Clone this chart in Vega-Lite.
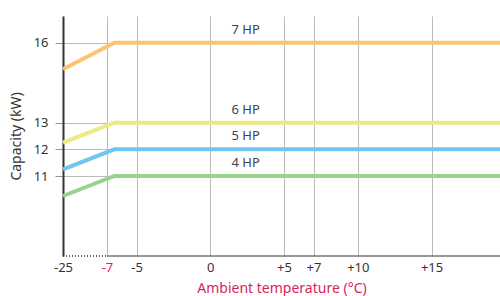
{
  "$schema": "https://vega.github.io/schema/vega-lite/v6.json",
  "width": 437,
  "height": 240,
  "autosize": "none",
  "padding": {"left": 63, "top": 16, "right": 0, "bottom": 40},
  "config": {
    "view": {"stroke": null},
    "font": "Noto Sans",
    "axis": {"labelFont": "Noto Sans", "titleFont": "Noto Sans", "labelFontSize": 13, "labelColor": "#333", "titleColor": "#333", "titleFontWeight": "normal", "titleFontSize": 14}
  },
  "datasets": {
    "lines": [
      {"model": "7 HP", "temp": -25, "cap": 15},
      {"model": "7 HP", "temp": -6.5, "cap": 16},
      {"model": "7 HP", "temp": 19.64, "cap": 16},
      {"model": "6 HP", "temp": -25, "cap": 12.25},
      {"model": "6 HP", "temp": -6.5, "cap": 13},
      {"model": "6 HP", "temp": 19.64, "cap": 13},
      {"model": "5 HP", "temp": -25, "cap": 11.25},
      {"model": "5 HP", "temp": -6.5, "cap": 12},
      {"model": "5 HP", "temp": 19.64, "cap": 12},
      {"model": "4 HP", "temp": -25, "cap": 10.25},
      {"model": "4 HP", "temp": -6.5, "cap": 11},
      {"model": "4 HP", "temp": 19.64, "cap": 11}
    ],
    "labels": [
      {"model": "7 HP", "temp": 2.4, "cap": 16},
      {"model": "6 HP", "temp": 2.4, "cap": 13},
      {"model": "5 HP", "temp": 2.4, "cap": 12},
      {"model": "4 HP", "temp": 2.4, "cap": 11}
    ],
    "dotted": [{"a": -25, "b": -7, "y": 8}],
    "solid": [{"a": -7, "b": 19.64, "y": 8}]
  },
  "layer": [
    {
      "data": {"name": "lines"},
      "mark": {"type": "line", "strokeWidth": 4, "strokeCap": "butt"},
      "encoding": {
        "x": {
          "field": "temp", "type": "quantitative",
          "scale": {"domain": [-25, -7, 19.64], "range": [0, 44, 437], "nice": false, "zero": false},
          "axis": {
            "values": [-25, -7, -5, 0, 5, 7, 10, 15],
            "grid": true, "gridColor": "#bbbbbb", "gridWidth": 1,
            "domain": false, "ticks": false, "labelPadding": 5, "labelFlush": false,
            "labelExpr": "datum.value > 0 ? '+' + datum.value : '' + datum.value",
            "labelColor": {"condition": {"test": "datum.value == -7", "value": "#d81e5b"}, "value": "#333333"},
            "title": "Ambient temperature (°C)", "titleColor": "#d81e5b", "titlePadding": 7
          }
        },
        "y": {
          "field": "cap", "type": "quantitative",
          "scale": {"domain": [8, 17], "nice": false, "zero": false},
          "axis": {
            "values": [11, 12, 13, 16],
            "grid": true, "gridColor": "#bbbbbb",
            "domain": true, "domainColor": "#333333", "domainWidth": 2,
            "ticks": true, "tickSize": 8, "tickColor": "#999999",
            "labelPadding": 7, "labelFlush": false,
            "title": "Capacity (kW)", "titlePadding": 10
          }
        },
        "color": {
          "field": "model", "type": "nominal",
          "scale": {"domain": ["7 HP", "6 HP", "5 HP", "4 HP"], "range": ["#fdc373", "#ecea80", "#70c6ee", "#98d38c"]},
          "legend": null
        },
        "detail": {"field": "model"}
      }
    },
    {
      "data": {"name": "labels"},
      "mark": {"type": "text", "baseline": "bottom", "dy": -6, "fontSize": 13, "color": "#444444", "font": "Noto Sans"},
      "encoding": {
        "x": {"field": "temp", "type": "quantitative"},
        "y": {"field": "cap", "type": "quantitative"},
        "text": {"field": "model"}
      }
    },
    {
      "data": {"name": "dotted"},
      "mark": {"type": "rule", "strokeDash": [1, 2], "color": "#333333", "strokeWidth": 1.5},
      "encoding": {
        "x": {"field": "a", "type": "quantitative"},
        "x2": {"field": "b"},
        "y": {"field": "y", "type": "quantitative"}
      }
    },
    {
      "data": {"name": "solid"},
      "mark": {"type": "rule", "color": "#333333", "strokeWidth": 1},
      "encoding": {
        "x": {"field": "a", "type": "quantitative"},
        "x2": {"field": "b"},
        "y": {"field": "y", "type": "quantitative"}
      }
    }
  ]
}
